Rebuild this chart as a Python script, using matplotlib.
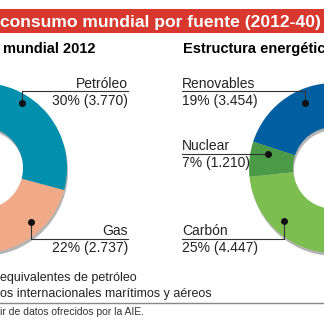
import matplotlib.pyplot as plt
from matplotlib.patches import Rectangle

# Values (Mtep); hidden slices are estimates
left_labels = ["Gas", "Petróleo", "Carbón", "Nuclear", "Renovables"]
left_values = [2737, 3770, 3730, 640, 1690]
left_colors = ["#F0AA88", "#0090AE", "#7DBE50", "#4A9A48", "#005FA0"]

right_labels = ["Renovables", "Nuclear", "Carbón", "Gas", "Petróleo"]
right_values = [3454, 1210, 4447, 4400, 4668]
right_colors = ["#005FA0", "#4A9A48", "#7DBE50", "#F0AA88", "#0090AE"]

W = H = 324


def donut(ax, values, colors, center, start):
    r = 85
    w = 44
    sx, sy = center[0] + 1, center[1] - 3
    ax.pie(values, colors=["#B4B4B4"] * len(values), center=(sx, sy), radius=r,
           startangle=start, counterclock=True, frame=True,
           wedgeprops=dict(width=w, linewidth=0))
    ax.pie(values, colors=colors, center=center, radius=r,
           startangle=start, counterclock=True, frame=True,
           wedgeprops=dict(width=w, linewidth=0))


def callout(ax, text1, text2, tx, ty, ha, line_pts, dot):
    ax.text(tx, ty, text1, ha=ha, va="baseline", fontsize=10, color="#222222")
    ax.text(tx, ty - 17, text2, ha=ha, va="baseline", fontsize=10, color="#222222")
    xs = [p[0] for p in line_pts]
    ys = [p[1] for p in line_pts]
    ax.plot(xs, ys, color="#333333", lw=0.8)
    ax.plot(dot[0], dot[1], "o", color="#111111", ms=4)


def main() -> None:
    plt.rcParams["font.family"] = ["Liberation Sans", "DejaVu Sans"]
    fig = plt.figure(figsize=(3.24, 3.24), dpi=100)
    ax = fig.add_axes([0, 0, 1, 1])

    tot_l = sum(left_values)
    start_l = -15 - left_values[0] / tot_l * 360
    donut(ax, left_values, left_colors, (-18, 156), start_l)

    tot_r = sum(right_values)
    start_r = 162 - right_values[0] / tot_r * 360
    donut(ax, right_values, right_colors, (334, 156), start_r)

    ax.set_xlim(0, W)
    ax.set_ylim(0, H)
    ax.set_aspect("auto")
    ax.set_axis_off()

    # title bar
    ax.add_patch(Rectangle((0, 291), W, 24, color="#D8382E", lw=0))
    ax.text(0, 297, "consumo mundial por fuente (2012-40)", color="white",
            fontsize=12.6, fontweight="bold", va="baseline", ha="left")

    ax.text(3, 271, "mundial 2012", fontsize=10.5, fontweight="bold", va="baseline")
    ax.text(183, 271, "Estructura energética", fontsize=10.5, fontweight="bold",
            va="baseline")

    # left callouts
    callout(ax, "Petróleo", "30% (3.770)", 128, 236, "right",
            [(128, 233), (22, 233), (22, 221)], (22, 221))
    callout(ax, "Gas", "22% (2.737)", 128, 89, "right",
            [(128, 85.5), (31, 85.5), (31, 102)], (31, 102))

    # right callouts
    callout(ax, "Renovables", "19% (3.454)", 182, 236, "left",
            [(182, 233), (305, 233), (305, 221)], (305, 221))
    callout(ax, "Nuclear", "7% (1.210)", 182, 174, "left",
            [(182, 170), (268, 170)], (268, 170))
    callout(ax, "Carbón", "25% (4.447)", 182, 89, "left",
            [(182, 85.5), (284, 85.5), (284, 103)], (284, 103))

    # footnotes
    ax.text(0, 43, "equivalentes de petróleo", fontsize=9, color="#222222",
            va="baseline")
    ax.text(0, 27, "os internacionales marítimos y aéreos", fontsize=9,
            color="#222222", va="baseline")
    ax.plot([0, W], [21, 21], color="#888888", lw=1)
    ax.text(0, 9, "ir de datos ofrecidos por la AIE.", fontsize=7.5,
            color="#333333", va="baseline")

    fig.savefig("out.png", dpi=100)


if __name__ == "__main__":
    main()
